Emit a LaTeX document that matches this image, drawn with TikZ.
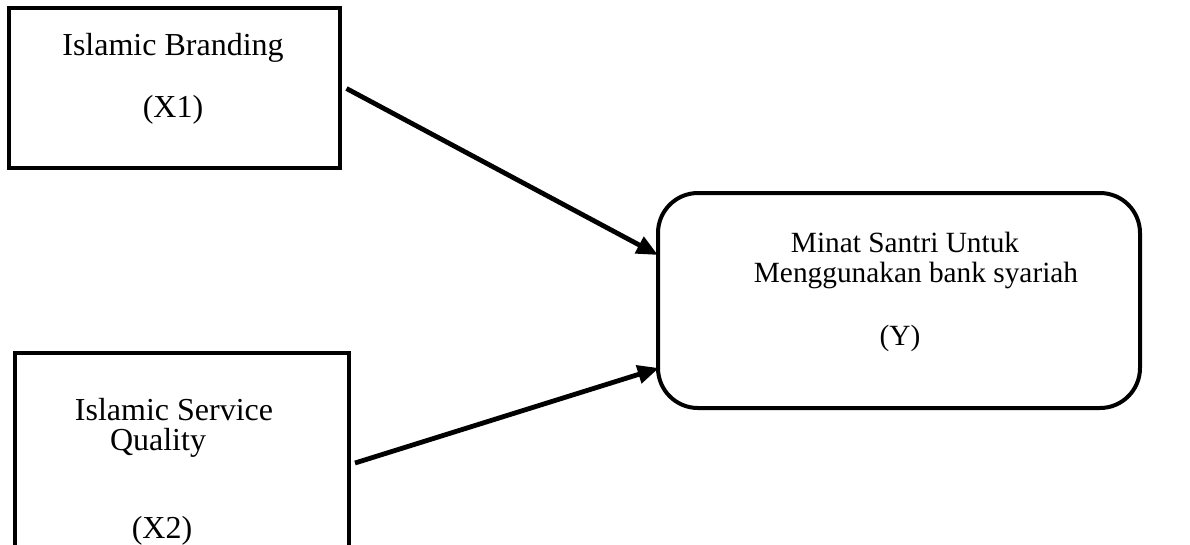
\documentclass[tikz,border=0pt]{standalone}
\usepackage{fontspec}
\setmainfont{Liberation Serif}
\usetikzlibrary{arrows.meta,calc}
\begin{document}
\begin{tikzpicture}[x=0.75pt,y=-0.75pt,
  box/.style={draw=black,line width=3pt,inner sep=0pt,outer sep=0pt},
  rbox/.style={box,rounded corners=30pt},
  lbl/.style={inner sep=0pt,anchor=base,font=\fontsize{24pt}{28pt}\selectfont},
  lbly/.style={lbl,font=\fontsize{22pt}{26pt}\selectfont},
  arr/.style={line width=3.6pt,-{Triangle[length=16pt,width=13.5pt]}}]
\useasboundingbox (0,0) rectangle (1190,544);
\clip (0,0) rectangle (1190,544);
\node[box,minimum width=248.25pt,minimum height=120pt] (b1) at (174,87.5) {};
\node[box,minimum width=250.5pt,minimum height=146.25pt] (b2) at (182,450.5) {};
\node[rbox,minimum width=361.5pt,minimum height=161.25pt] (y) at (899,300.5) {};
\node[lbl] (t1a) at (173,55) {Islamic Branding};
\node[lbl] (t1b) at (173,117) {(X1)};
\node[lbl] (t2a) at (174,420) {Islamic Service};
\node[lbl] (t2b) at (158,450) {Quality};
\node[lbl] (t2c) at (162,538) {(X2)};
\node[lbly] (t3a) at (905,252) {Minat Santri Untuk};
\node[lbly] (t3b) at (916,282) {Menggunakan bank syariah};
\node[lbly] (t3c) at (900,345) {(Y)};
\coordinate (e1) at ($(y.west)+(0,-45.5)$);
\coordinate (e2) at ($(y.west)+(1,67.5)$);
\coordinate (s1) at ($(b1.east)+(7,1)$);
\coordinate (s2) at ($(b2.east)+(6,12.5)$);
\draw[arr] (s1) -- (e1);
\draw[arr] (s2) -- (e2);
\end{tikzpicture}
\end{document}
